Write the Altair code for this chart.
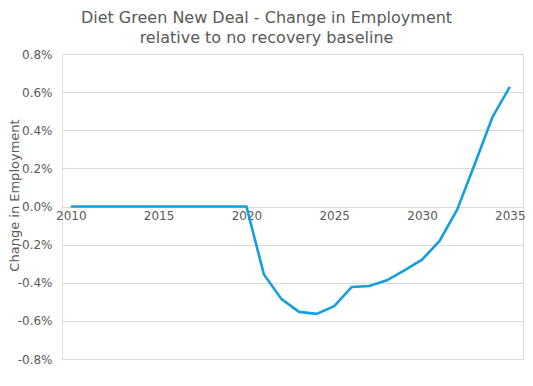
import altair as alt
import pandas as pd

years = list(range(2010, 2036))
change = [0.0] * 11 + [
    -0.00357, -0.00486, -0.00553, -0.00563, -0.00523,
    -0.00422, -0.00417, -0.00387, -0.00335, -0.00279,
    -0.00181, -0.00017, 0.00222, 0.00467, 0.00628,
]
y_ticks = [-0.008, -0.006, -0.004, -0.002, 0.0, 0.002, 0.004, 0.006, 0.008]
x_ticks = [2010, 2015, 2020, 2025, 2030, 2035]

df = pd.DataFrame({"year": years, "change": change})

FONT = "DejaVu Sans"
GRAY = "#595959"

W, H = 461, 305

base = alt.Chart(df)

line = base.mark_line(color="#159ee0", strokeWidth=2.6).encode(
    x=alt.X(
        "year:Q",
        scale=alt.Scale(domain=[2009.5, 2035.75], nice=False, zero=False),
        axis=alt.Axis(
            values=x_ticks, format="d", title=None, grid=False, domain=False,
            ticks=False, offset=-H / 2, labelPadding=4, labelFontSize=12,
            labelColor=GRAY, labelFont=FONT,
        ),
    ),
    y=alt.Y(
        "change:Q",
        scale=alt.Scale(domain=[-0.008, 0.008], nice=False),
        axis=alt.Axis(
            values=y_ticks,
            labelExpr="replace(format(datum.value, '.1%'), '\u2212', '-')",
            title="Change in Employment", titleFontSize=13, titleFontWeight="normal",
            titleColor=GRAY, titleFont=FONT, titleX=-41, titleY=141,
            titleAngle=-90, titleBaseline="bottom", titleAlign="center",
            labelFontSize=12, labelColor=GRAY, labelFont=FONT, labelPadding=10,
            domain=False, ticks=False, gridColor="#d9d9d9", gridWidth=1,
        ),
    ),
)

chart = line.properties(
    width=W,
    height=H,
    title=alt.TitleParams(
        text=["Diet Green New Deal - Change in Employment", "relative to no recovery baseline"],
        fontSize=16, font=FONT, fontWeight="normal", color=GRAY,
        anchor="middle", dx=-26, offset=2, lineHeight=20,
    ),
    padding={"left": 54, "top": 46, "right": 2, "bottom": 8},
    autosize=alt.AutoSizeParams(type="none"),
).configure_view(stroke=None).configure(background="white")

chart.save("out.html", embed_options={"renderer": "svg", "actions": False})
